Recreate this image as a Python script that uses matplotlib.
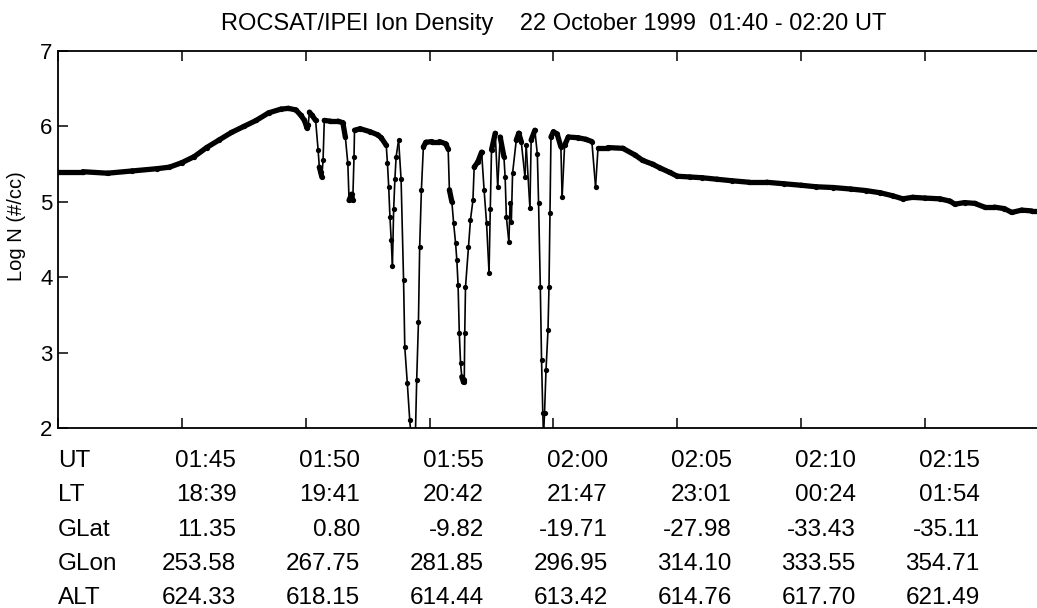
import numpy as np
import matplotlib
matplotlib.use("Agg")
import matplotlib.pyplot as plt
from matplotlib.collections import LineCollection
from matplotlib.transforms import blended_transform_factory

plt.rcParams['font.family'] = ['Liberation Sans', 'DejaVu Sans']

# minutes after 01:40 UT
t_min = [0, 1, 2, 3, 4, 4.5, 5, 5.5, 6, 6.5, 7, 7.5, 8, 8.5, 9, 9.3, 9.6,
         9.8, 9.95, 10.05, 10.1, 10.15, 10.25, 10.4, 10.5, 10.55, 10.6, 10.65, 10.7,
         10.75, 11.0, 11.3, 11.5, 11.6, 11.7, 11.75, 11.85, 11.9, 11.95, 11.97,
         12.2, 12.6, 12.9, 13.05, 13.25, 13.3, 13.35, 13.4, 13.45, 13.5, 13.55,
         13.6, 13.65, 13.75, 13.85, 13.95, 14.0, 14.1, 14.2, 14.28, 14.42, 14.48,
         14.55, 14.6, 14.67, 14.75, 14.85, 15.1, 15.4, 15.65, 15.75, 15.8, 15.9,
         15.97, 16.05, 16.1, 16.15, 16.2, 16.25, 16.3, 16.37, 16.4, 16.42, 16.45,
         16.57, 16.65, 16.75, 16.8, 16.95, 17.1, 17.2, 17.3, 17.4, 17.45, 17.5,
         17.65, 17.75, 17.85, 18.0, 18.05, 18.1, 18.2, 18.25, 18.3, 18.35, 18.5,
         18.6, 18.7, 18.85, 18.9, 19.05, 19.1, 19.25, 19.35, 19.4, 19.47, 19.52,
         19.57, 19.6, 19.64, 19.7, 19.78, 19.82, 19.86, 19.9, 20.0, 20.15, 20.3,
         20.35, 20.45, 20.6, 21.0, 21.3, 21.55, 21.7, 21.8, 22.2, 22.8, 23.3, 23.6,
         24.0, 24.3, 24.7, 25.0, 25.5, 26.0, 26.6, 27.2, 27.9, 28.6, 29.3, 30.0,
         30.6, 31.3, 32.0, 32.6, 33.2, 33.7, 34.1, 34.5, 35.0, 35.6, 36.0, 36.2,
         36.6, 37.0, 37.4, 37.8, 38.2, 38.5, 38.9, 39.3, 39.7, 40.0]
log_n = [5.40, 5.40, 5.38, 5.41, 5.44, 5.46, 5.52, 5.60, 5.72, 5.82, 5.92, 6.00, 6.08, 6.18, 6.23, 6.24, 6.22,
         6.15, 6.08, 5.98, 6.02, 6.19, 6.15, 6.08, 5.69, 5.46, 5.40, 5.33, 5.55,
         6.08, 6.07, 6.07, 6.05, 5.86, 5.51, 5.02, 5.10, 5.02, 5.60, 5.95,
         5.97, 5.93, 5.89, 5.85, 5.75, 5.51, 5.20, 4.80, 4.50, 4.15, 4.90,
         5.30, 5.60, 5.82, 5.30, 3.96, 3.07, 2.60, 2.10, 1.80, 1.80, 2.64,
         3.40, 4.40, 5.16, 5.73, 5.79, 5.80, 5.80, 5.77, 5.70, 5.16, 5.00,
         4.72, 4.45, 4.23, 3.90, 3.26, 2.86, 2.68, 2.61, 2.64, 3.26, 3.87,
         4.40, 4.76, 5.02, 5.46, 5.53, 5.66, 5.16, 4.72, 4.06, 4.90, 5.69,
         5.91, 5.20, 5.86, 5.60, 5.33, 4.80, 4.47, 4.98, 4.73, 5.38, 5.82,
         5.91, 5.80, 5.33, 5.75, 4.92, 5.82, 5.95, 5.63, 4.98, 3.87, 2.90,
         2.20, 1.90, 2.20, 2.77, 3.30, 3.87, 4.85, 5.86, 5.93, 5.90, 5.73,
         5.06, 5.75, 5.86, 5.85, 5.83, 5.80, 5.20, 5.72, 5.72, 5.71, 5.62, 5.55,
         5.50, 5.45, 5.39, 5.34, 5.33, 5.32, 5.30, 5.28, 5.26, 5.26, 5.24, 5.22,
         5.20, 5.19, 5.17, 5.15, 5.12, 5.08, 5.04, 5.06, 5.05, 5.04, 5.01, 4.97,
         4.99, 4.98, 4.93, 4.93, 4.91, 4.86, 4.89, 4.88, 4.88, 4.87]

# table below the plot
ut_ticks = [5, 10, 15, 20, 25, 30, 35]
row_names = ["UT", "LT", "GLat", "GLon", "ALT"]
ut = ["01:45", "01:50", "01:55", "02:00", "02:05", "02:10", "02:15"]
lt = ["18:39", "19:41", "20:42", "21:47", "23:01", "00:24", "01:54"]
glat = ["11.35", "0.80", "-9.82", "-19.71", "-27.98", "-33.43", "-35.11"]
glon = ["253.58", "267.75", "281.85", "296.95", "314.10", "333.55", "354.71"]
alt = ["624.33", "618.15", "614.44", "613.42", "614.76", "617.70", "621.49"]

fig = plt.figure(figsize=(10.37, 6.08), dpi=100)
ax = fig.add_axes([0.0559, 0.296, 0.9556, 0.620])

t = np.array(t_min)
v = np.array(log_n)
pts = np.column_stack([t, v])
segs = np.stack([pts[:-1], pts[1:]], axis=1)
slope = np.abs(np.diff(v) / np.diff(t))
widths = np.where(slope < 2.0, 3.8, 1.2)
lc = LineCollection(segs, colors='black', linewidths=widths, capstyle='round', joinstyle='round')
ax.add_collection(lc)
ax.plot(t, v, 'o', color='black', ms=3.8, mew=0)

ax.set_xlim(0, 40)
ax.set_ylim(2, 7)
ax.set_xticks(range(0, 41, 5))
ax.set_xticklabels([])
ax.set_yticks(range(2, 8))
ax.tick_params(axis='x', direction='in', top=True, length=7, width=1.1)
ax.tick_params(axis='y', direction='in', length=7, width=1.1, labelsize=16, pad=4)
for s in ax.spines.values():
    s.set_linewidth(1.3)

ax.set_ylabel("Log N (#/cc)", fontsize=14.5)
ax.yaxis.set_label_coords(-0.032, 0.536)
ax.set_title("ROCSAT/IPEI Ion Density    22 October 1999  01:40 - 02:20 UT",
             fontsize=17, pad=15)

trans = blended_transform_factory(ax.transData, fig.transFigure)
rows = [ut, lt, glat, glon, alt]
base_y = [0.2319, 0.176, 0.1184, 0.0625, 0.0066]
for name, vals, y in zip(row_names, rows, base_y):
    fig.text(0.0559, y, name, fontsize=17.5, ha='left', va='baseline')
    for tk, s in zip(ut_ticks, vals):
        ax.text(tk + 2.2, y, s, transform=trans, fontsize=17.5,
                ha='right', va='baseline', clip_on=False)

fig.savefig("out.png", dpi=100)
